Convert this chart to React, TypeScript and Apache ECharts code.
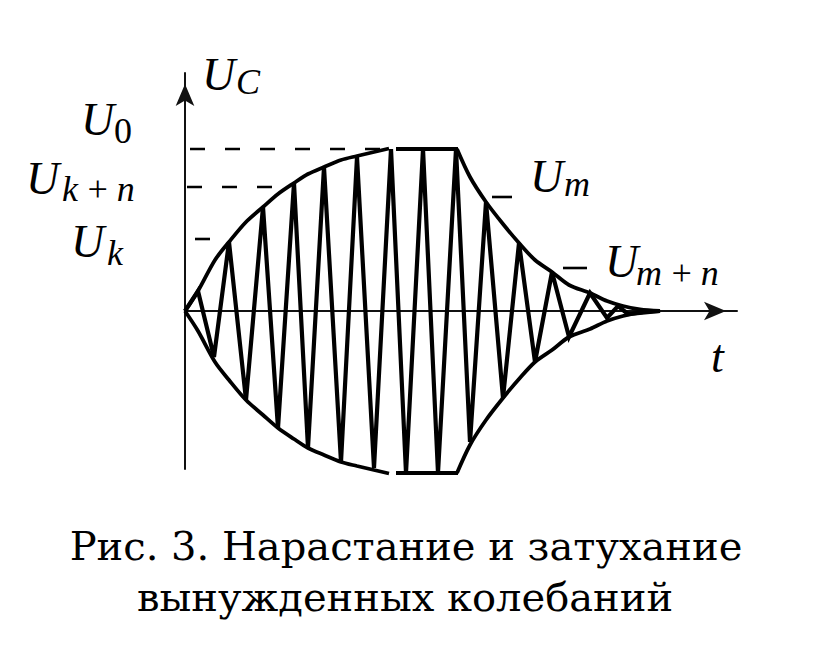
import React, { useEffect, useRef } from "react";
import * as echarts from "echarts";

// Zigzag oscillation vertices: [t, U]
const oscT = [0, 1.3, 2.9, 4.4, 6.1, 7.8, 9.3, 10.9, 12.3, 13.9, 15.6, 17.2, 18.9, 20.6, 22.1, 23.8, 25.3, 27.1, 28.5, 30.1, 31.8, 33.4, 35.0, 36.7, 38.4, 40.5, 42.2, 43.3, 44.3, 47.5];
const oscU = [0, 2.0, -4.6, 6.9, -8.9, 10.4, -11.7, 12.8, -13.7, 14.4, -15.1, 15.4, -15.7, 16.2, -16.2, 16.2, -16.2, 16.2, -13.1, 10.9, -8.7, 6.8, -5.1, 3.9, -2.6, 1.8, -0.7, 0.5, -0.3, 0];

// Rising envelope (amplitude)
const riseT = [0, 1.3, 3.0, 4.4, 6.1, 7.8, 9.3, 10.9, 12.3, 13.9, 15.6, 17.2, 18.9, 20.4];
const riseA = [0, 2.0, 5.1, 6.9, 8.9, 10.4, 11.7, 12.8, 13.7, 14.4, 15.1, 15.5, 15.9, 16.25];

// Steady amplitude segment
const flatT = [21.1, 27.3];
const flatA = [16.2, 16.2];

// Decaying envelope (amplitude)
const decayT = [27.2, 28.5, 30.1, 31.8, 33.4, 35.0, 36.7, 38.4, 40.5, 42.2, 43.8, 45.5, 47.5];
const decayA = [16.2, 13.4, 10.9, 8.7, 6.8, 5.1, 3.9, 2.6, 1.8, 1.0, 0.5, 0.15, 0];

// Level markers
const levelNames = ["U0", "Uk+n", "Uk", "Um", "Um+n"];
const levelU = [16.2, 12.4, 7.2, 11.4, 4.3];
const levelStart = [0.5, 0.2, 1.0, 30.7, 37.8];
const levelEnd = [20.0, 9.8, 2.5, 32.7, 40.2];

const axisT = [0, 55.2];
const axisU = [-15.8, 23.8];

const MATH = "Liberation Serif";
const CAP = "DejaVu Serif";

function txt(text: string, x: number, y: number, size: number, family: string, italic: boolean, align = "left") {
  return {
    type: "text",
    x,
    y,
    style: {
      text,
      fontFamily: family,
      fontSize: size,
      fontStyle: italic ? "italic" : "normal",
      fill: "#000",
      align,
      verticalAlign: "middle",
    },
  };
}

function mathLabel(main: string, sub: string, x: number, baseY: number, subX: number, subBaseY: number, subItalic = true) {
  const els: any[] = [txt(main, x, baseY - 14, 46, MATH, true)];
  if (sub) els.push(txt(sub, subX, subBaseY - 11, 36, MATH, subItalic));
  return els;
}

export default function App() {
  const ref = useRef<HTMLDivElement>(null);
  useEffect(() => {
    if (!ref.current) return;
    const chart = echarts.init(ref.current, undefined, { renderer: "svg" });
    const black = "#000";
    const lineW = 4.2;
    const pairs = (ts: number[], vs: number[], sign = 1) => ts.map((t, i) => [t, sign * vs[i]]);

    const series: any[] = [
      {
        type: "line", name: "oscillation", data: pairs(oscT, oscU), symbol: "none", clip: false,
        lineStyle: { color: black, width: lineW, join: "miter", miterLimit: 3 },
      },
      { type: "line", name: "riseUp", data: pairs(riseT, riseA), symbol: "none", smooth: 0.3, clip: false, lineStyle: { color: black, width: 3.8 } },
      { type: "line", name: "riseDown", data: pairs(riseT, riseA, -1), symbol: "none", smooth: 0.3, clip: false, lineStyle: { color: black, width: 3.8 } },
      { type: "line", name: "flatUp", data: pairs(flatT, flatA), symbol: "none", clip: false, lineStyle: { color: black, width: 4 } },
      { type: "line", name: "flatDown", data: pairs(flatT, flatA, -1), symbol: "none", clip: false, lineStyle: { color: black, width: 4 } },
      { type: "line", name: "decayUp", data: pairs(decayT, decayA), symbol: "none", smooth: 0.3, clip: false, lineStyle: { color: black, width: 3.8 } },
      { type: "line", name: "decayDown", data: pairs(decayT, decayA, -1), symbol: "none", smooth: 0.3, clip: false, lineStyle: { color: black, width: 3.8 } },
    ];
    levelNames.forEach((n, i) => {
      series.push({
        type: "line", name: n, symbol: "none", clip: false,
        data: [[levelStart[i], levelU[i]], [levelEnd[i], levelU[i]]],
        lineStyle: { color: black, width: 2.6, type: i < 2 ? [15, 20] : "solid" },
      });
    });

    const graphics: any[] = [
      ...mathLabel("U", "C", 202, 88, 236, 93),
      ...mathLabel("U", "0", 81, 133, 114, 142, false),
      ...mathLabel("U", "k\u2009+\u2009n", 26, 192, 62, 200),
      ...mathLabel("U", "k", 71, 255, 107, 264),
      ...mathLabel("U", "m", 530, 190, 564, 195),
      ...mathLabel("U", "m\u2009+\u2009n", 605, 275, 636, 284),
      txt("t", 711, 356, 46, MATH, true),
      txt("Рис. 3. Нарастание и затухание", 406, 546, 40, CAP, false, "center"),
      txt("вынужденных колебаний", 405, 597, 40, CAP, false, "center"),
    ];

    chart.setOption({
      animation: false,
      backgroundColor: "#fff",
      grid: { left: 185, right: 831 - 737, top: 73, bottom: 664 - 469 },
      xAxis: {
        type: "value", min: axisT[0], max: axisT[1],
        axisLine: { show: true, onZero: true, symbol: ["none", "arrow"], symbolSize: [14, 22], symbolOffset: [0, -11], lineStyle: { color: "#111", width: 2 } },
        axisTick: { show: false }, axisLabel: { show: false }, splitLine: { show: false },
      },
      yAxis: {
        type: "value", min: axisU[0], max: axisU[1],
        axisLine: { show: true, onZero: false, symbol: ["none", "arrow"], symbolSize: [14, 22], symbolOffset: [0, -11], lineStyle: { color: "#111", width: 2 } },
        axisTick: { show: false }, axisLabel: { show: false }, splitLine: { show: false },
      },
      series,
      graphic: graphics,
    });
    return () => chart.dispose();
  }, []);
  return <div ref={ref} style={{ position: "fixed", left: 0, top: 0, width: 831, height: 664, background: "#fff" }} />;
}
